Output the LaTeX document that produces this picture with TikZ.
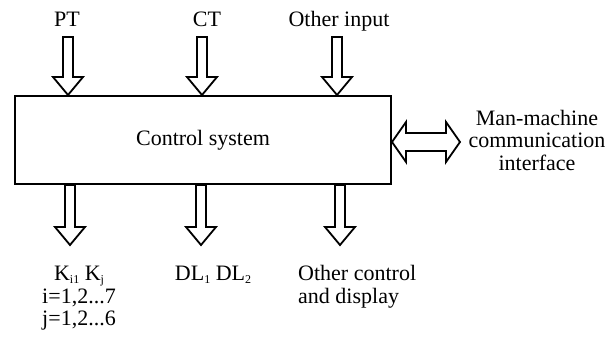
\documentclass[tikz,border=0pt]{standalone}
\usepackage{fontspec}
\setmainfont{Liberation Serif}
\usepackage{tikz}
\usetikzlibrary{calc}
\newcommand{\lowidx}[1]{\raisebox{-3pt}{\fontsize{12}{12}\selectfont #1}}
\tikzset{
  lbl/.style={font=\fontsize{22}{23}\selectfont, inner sep=0pt},
  hollow/.style={line width=1.8pt, line join=miter},
  downarrow/.style={hollow, to path={($(\tikztostart)+(-5,0)$) -- ($(\tikztotarget)+(-5,-18)$) -- ++(-10,0) -- (\tikztotarget) -- ($(\tikztotarget)+(15,-18)$) -- ++(-10,0) -- ($(\tikztostart)+(5,0)$) -- cycle}}
}
\begin{document}
\begin{tikzpicture}[x=1pt,y=-1pt]
            \useasboundingbox (0,0) rectangle (615,345);
            \node[lbl, draw, line width=2pt, minimum width=376pt, minimum height=88pt] (ctrl) at (203,140){Control system};
            % inputs
            \node[lbl, anchor=base] (pt) at (67,27){PT};
            \node[lbl, anchor=base] (ct) at (207,27){CT};
            \node[lbl, anchor=base] (oin) at (339,27){Other input};
            \coordinate (ptTail) at (68,37);
            \coordinate (ctTail) at (202,37);
            \coordinate (oinTail) at (337,37);
            \coordinate (ptTip) at (ctrl.north -| ptTail);
            \coordinate (ctTip) at (ctrl.north -| ctTail);
            \coordinate (oinTip) at (ctrl.north -| oinTail);
            \draw[downarrow] (ptTail) to (ptTip);
            \draw[downarrow] (ctTail) to (ctTip);
            \draw[downarrow] (oinTail) to (oinTip);
            % outputs
            \coordinate (kTail) at (ctrl.south -| 70,0);
            \coordinate (dlTail) at (ctrl.south -| 201,0);
            \coordinate (ocTail) at (ctrl.south -| 340,0);
            \coordinate (kTip) at (70,245);
            \coordinate (dlTip) at (201,245);
            \coordinate (ocTip) at (340,245);
            \draw[downarrow] (kTail) to (kTip);
            \draw[downarrow] (dlTail) to (dlTip);
            \draw[downarrow] (ocTail) to (ocTip);
            \node[lbl, anchor=base] (k) at (79,280){K\lowidx{i1} K\lowidx{j}};
            \node[lbl, anchor=base] (irange) at (79,303){i=1,2...7};
            \node[lbl, anchor=base] (jrange) at (79,325){j=1,2...6};
            \node[lbl, anchor=base] (dl) at (213,280){DL\lowidx{1} DL\lowidx{2}};
            \node[lbl, anchor=base west] (oc) at (298,280){Other control};
            \node[lbl, anchor=base west] (ocd) at (298,303){and display};
            % man-machine side
            \node[lbl, anchor=base] (mm) at (537,125){Man-machine};
            \node[lbl, anchor=base] (mmc) at (537,147){communication};
            \node[lbl, anchor=base] (mmi) at (537,170){interface};
            \coordinate (mmR) at (460,142);
            \coordinate (mmL) at (ctrl.east |- mmR);
            \draw[hollow] (mmL) -- ++(14,-20) -- ++(0,11) -- ($(mmR)+(-14,-9)$) -- ++(0,-11) -- (mmR) -- ++(-14,20) -- ++(0,-11) -- ($(mmL)+(14,9)$) -- ++(0,11) -- cycle;
        \end{tikzpicture}
\end{document}
